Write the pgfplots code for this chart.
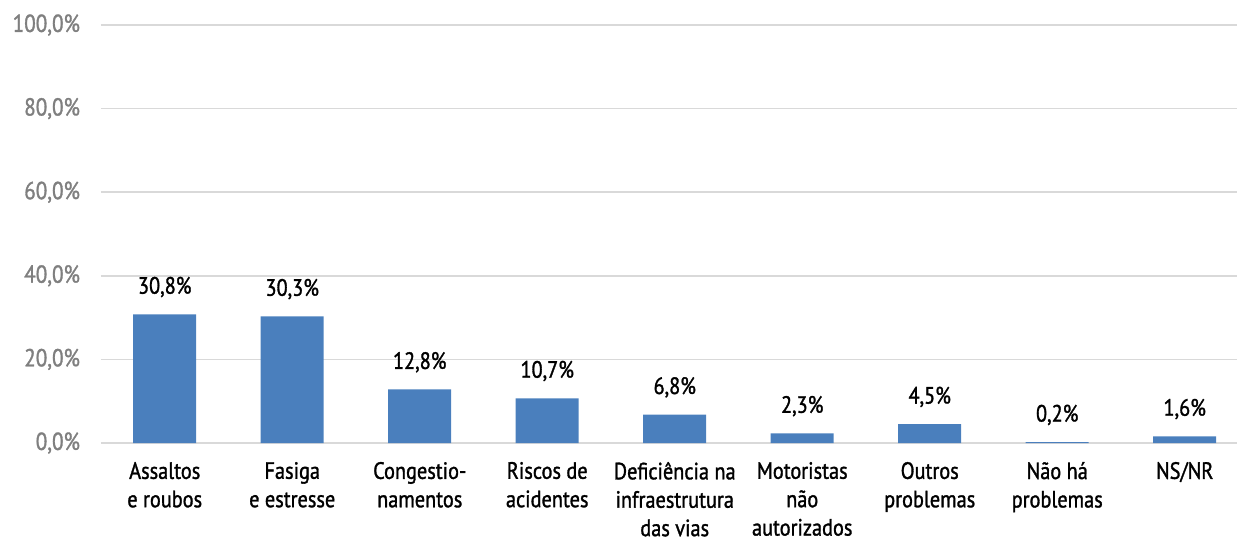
\documentclass[border=0pt]{standalone}
\usepackage{pgfplots}
\pgfplotsset{compat=1.18}
\usepackage{fontspec}
\setmainfont{PT Sans}[FakeStretch=0.86, FakeBold=1.3]
\definecolor{barblue}{HTML}{4A7FBD}
\definecolor{gridgray}{HTML}{D9D9D9}
\definecolor{tickgray}{HTML}{7F7F7F}
\begin{document}
\begin{tikzpicture}
\begin{axis}[
  name=ax,
  scale only axis,
  width=568pt, height=209pt,
  ymin=0, ymax=100,
  xmin=-0.5, xmax=8.41,
  /pgf/number format/assume math mode=true,
  ytick={0,20,40,60,80,100},
  yticklabels={{0,0\%},{20,0\%},{40,0\%},{60,0\%},{80,0\%},{100,0\%}},
  xtick={0,1,2,3,4,5,6,7,8},
  xticklabels={{Assaltos\\e roubos},{Fasiga\\e estresse},{Congestio-\\namentos},{Riscos de\\acidentes},{Deficiência na\\infraestrutura\\das vias},{Motoristas\\não\\autorizados},{Outros\\problemas},{{Não há}\\{problemas}},{NS/NR}},
  xticklabel style={align=center, font=\fontsize{11.8}{14.2}\selectfont, text=black, yshift=-6pt},
  yticklabel style={font=\fontsize{12.3}{14}\selectfont, text=tickgray, xshift=-7pt},
  axis line style={draw=none},
  major tick length=0pt,
  ymajorgrids,
  grid style={gridgray, line width=0.75pt},
  clip=false,
  nodes near coords={\pgfmathprintnumber[fixed, fixed zerofill, precision=1, use comma, assume math mode=true]{\pgfplotspointmeta}\%},
  every node near coord/.append style={anchor=south, yshift=5pt, font=\fontsize{11.8}{13}\selectfont, text=black},
]
\addplot[ybar, bar width=31.5pt, fill=barblue, draw=none] coordinates {
(0,30.8) (1,30.3) (2,12.8) (3,10.7) (4,6.8) (5,2.3) (6,4.5) (7,0.2) (8,1.6)
};
\end{axis}
\pgfresetboundingbox
\path (ax.south west) ++(-50.5pt,-49pt) coordinate (bl);
\path (ax.north east) ++(0pt,12.5pt) coordinate (tr);
\path (bl) rectangle (tr);
\end{tikzpicture}
\end{document}
